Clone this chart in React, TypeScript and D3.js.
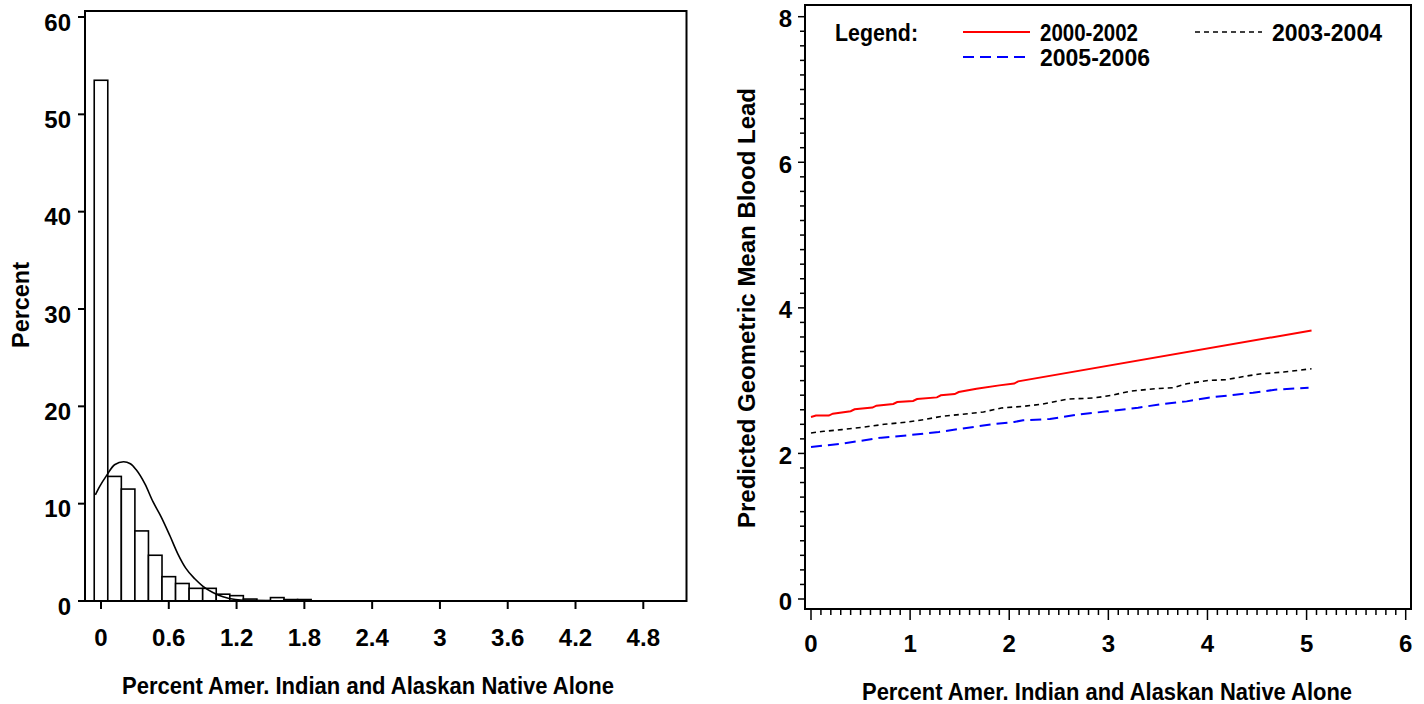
import React from "react";
import * as d3 from "d3";

// ---------- Data: left histogram ----------
const binCenters = [0, 0.12, 0.24, 0.36, 0.48, 0.6, 0.72, 0.84, 0.96, 1.08, 1.2, 1.32, 1.44, 1.56, 1.68, 1.8];
const binPercents = [53.5, 12.8, 11.5, 7.2, 4.7, 2.5, 1.8, 1.3, 1.3, 0.7, 0.55, 0.2, 0.05, 0.35, 0.15, 0.15];
const binWidth = 0.12;
const curveX = [-0.05, -0.01, 0.05, 0.12, 0.2, 0.26, 0.31, 0.39, 0.46, 0.53, 0.61, 0.68, 0.75, 0.83, 0.9, 0.99, 1.08, 1.19, 1.34, 1.6, 2.0];
const curveY = [10.9, 11.8, 12.9, 14.0, 14.3, 14.1, 13.5, 12.0, 10.2, 8.7, 6.7, 4.85, 3.38, 2.28, 1.54, 0.88, 0.44, 0.15, 0.04, 0.01, 0];
const leftXTicks = [0, 0.6, 1.2, 1.8, 2.4, 3, 3.6, 4.2, 4.8];
const leftYTicks = [0, 10, 20, 30, 40, 50, 60];

// ---------- Data: right line chart ----------
const redX = [0.0, 0.05, 0.18, 0.22, 0.4, 0.44, 0.62, 0.66, 0.83, 0.87, 1.03, 1.07, 1.27, 1.31, 1.45, 1.49, 1.67, 1.9, 2.05, 2.09, 5.05];
const redY = [2.5, 2.52, 2.52, 2.546, 2.58, 2.606, 2.63, 2.656, 2.68, 2.706, 2.72, 2.747, 2.77, 2.798, 2.815, 2.843, 2.889, 2.935, 2.96, 2.99, 3.689];
const blackX = [0.0, 0.13, 0.31, 0.54, 0.74, 0.98, 1.16, 1.32, 1.52, 1.74, 1.92, 2.14, 2.32, 2.59, 2.85, 3.03, 3.23, 3.48, 3.66, 3.79, 4.01, 4.19, 4.37, 4.55, 4.77, 4.91, 5.05];
const blackY = [2.281, 2.304, 2.327, 2.363, 2.4, 2.432, 2.469, 2.51, 2.537, 2.569, 2.624, 2.647, 2.674, 2.747, 2.761, 2.798, 2.857, 2.889, 2.903, 2.958, 3.003, 3.013, 3.058, 3.095, 3.118, 3.141, 3.163];
const blueX = [0.0, 0.16, 0.31, 0.54, 0.71, 0.98, 1.29, 1.52, 1.69, 1.83, 2.05, 2.14, 2.41, 2.68, 2.99, 3.3, 3.57, 3.79, 4.01, 4.28, 4.46, 4.68, 5.02];
const blueY = [2.089, 2.112, 2.135, 2.181, 2.217, 2.249, 2.295, 2.341, 2.373, 2.4, 2.432, 2.455, 2.473, 2.533, 2.578, 2.629, 2.683, 2.715, 2.766, 2.807, 2.834, 2.875, 2.903];
const rightXTicks = [0, 1, 2, 3, 4, 5, 6];
const rightYTicks = [0, 2, 4, 6, 8];
const seriesNames = ["2000-2002", "2003-2004", "2005-2006"];
const xTitle = "Percent Amer. Indian and Alaskan Native Alone";

const FONT = "'Liberation Sans Narrow', 'Arial Narrow', 'Liberation Sans', Arial, sans-serif";

export default function App() {
  // Left scales
  const lx = d3.scaleLinear().domain([0, 4.8]).range([101, 643.3]);
  const ly = d3.scaleLinear().domain([0, 60]).range([601, 17]);
  const L = { left: 85, right: 686.5, top: 11, bottom: 601 };

  // Right scales
  const rx = d3.scaleLinear().domain([0, 6]).range([811, 1405.7]);
  const ry = d3.scaleLinear().domain([0, 8]).range([599, 16.7]);
  const R = { left: 805, right: 1411, top: 5, bottom: 609 };

  const curvePts: [number, number][] = curveX.map((x, i) => [x, curveY[i]]);
  const curvePath = d3.line<[number, number]>().x(d => lx(d[0])).y(d => ly(d[1])).curve(d3.curveMonotoneX)(curvePts) || "";

  const rLine = d3.line<[number, number]>().x(d => rx(d[0])).y(d => ry(d[1]));
  const redPath = rLine(redX.map((x, i) => [x, redY[i]] as [number, number])) || "";
  const blackPath = rLine(blackX.map((x, i) => [x, blackY[i]] as [number, number])) || "";
  const bluePath = rLine(blueX.map((x, i) => [x, blueY[i]] as [number, number])) || "";

  const rxMinor = d3.range(0, 60.5, 1).map(v => v / 10);
  const ryMinor = d3.range(0, 40.5, 1).map(v => v / 5);

  const tickFont = { fontFamily: FONT, fontWeight: 700, fontSize: 24 } as const;
  const legFont = { fontFamily: FONT, fontWeight: 700, fontSize: 23 } as const;
  const titleFont = { fontFamily: FONT, fontWeight: 700, fontSize: 23 } as const;

  return (
    <svg width={1424} height={704} style={{ position: "absolute", left: 0, top: 0, background: "#fff" }}>
      <rect x={0} y={0} width={1424} height={704} fill="#fff" />
      {/* ---------- LEFT: histogram ---------- */}
      {binCenters.map((c, i) => (
        <rect key={"b" + i}
          x={lx(c - binWidth / 2)} y={ly(binPercents[i])}
          width={lx(c + binWidth / 2) - lx(c - binWidth / 2)}
          height={ly(0) - ly(binPercents[i])}
          fill="#fff" stroke="#000" strokeWidth={1.6} />
      ))}
      <path d={curvePath} fill="none" stroke="#000" strokeWidth={1.6} />
      <rect x={L.left} y={L.top} width={L.right - L.left} height={L.bottom - L.top} fill="none" stroke="#000" strokeWidth={2} />
      {leftYTicks.map(t => (
        <g key={"ly" + t}>
          <line x1={L.left - 7} x2={L.left} y1={ly(t)} y2={ly(t)} stroke="#000" strokeWidth={2} />
          <text x={71} y={ly(t) + 5} dy="0.36em" textAnchor="end" {...tickFont}>{t}</text>
        </g>
      ))}
      {leftXTicks.map(t => (
        <g key={"lx" + t}>
          <line x1={lx(t)} x2={lx(t)} y1={L.bottom} y2={L.bottom + 8} stroke="#000" strokeWidth={2} />
          <text x={lx(t)} y={646} textAnchor="middle" {...tickFont}>{t}</text>
        </g>
      ))}
      <text x={368} y={694} textAnchor="middle" {...titleFont} textLength={492} lengthAdjust="spacingAndGlyphs">{xTitle}</text>
      <text transform="translate(29,305) rotate(-90)" textAnchor="middle" {...titleFont} textLength={86} lengthAdjust="spacingAndGlyphs">Percent</text>

      {/* ---------- RIGHT: lines ---------- */}
      <path d={redPath} fill="none" stroke="#ff0000" strokeWidth={2} />
      <path d={blackPath} fill="none" stroke="#000" strokeWidth={1.6} strokeDasharray="5,4" />
      <path d={bluePath} fill="none" stroke="#0000ff" strokeWidth={2} strokeDasharray="11,6" />
      <rect x={R.left} y={R.top} width={R.right - R.left} height={R.bottom - R.top} fill="none" stroke="#000" strokeWidth={2} />
      {ryMinor.map(t => {
        const major = Math.abs(t % 2) < 1e-6;
        return <line key={"rym" + t} x1={R.left - (major ? 7 : 5)} x2={R.left} y1={ry(t)} y2={ry(t)} stroke="#000" strokeWidth={1.5} />;
      })}
      {rightYTicks.map(t => (
        <text key={"ryt" + t} x={792} y={ry(t) + 2} dy="0.36em" textAnchor="end" {...tickFont}>{t}</text>
      ))}
      {rxMinor.map(t => {
        const major = Math.abs(t - Math.round(t)) < 1e-6;
        return <line key={"rxm" + t} x1={rx(t)} x2={rx(t)} y1={R.bottom} y2={R.bottom + (major ? 11 : 6)} stroke="#000" strokeWidth={1.5} />;
      })}
      {rightXTicks.map(t => (
        <text key={"rxt" + t} x={rx(t)} y={652} textAnchor="middle" {...tickFont}>{t}</text>
      ))}
      <text x={1107} y={700} textAnchor="middle" {...titleFont} textLength={490} lengthAdjust="spacingAndGlyphs">{xTitle}</text>
      <text transform="translate(755,308) rotate(-90)" textAnchor="middle" {...titleFont} textLength={440} lengthAdjust="spacingAndGlyphs">Predicted Geometric Mean Blood Lead</text>

      {/* Legend */}
      <text x={835} y={41} textLength={83} lengthAdjust="spacingAndGlyphs" {...legFont}>Legend:</text>
      <line x1={963} x2={1030} y1={32} y2={32} stroke="#ff0000" strokeWidth={2} />
      <text x={1040} y={41} textLength={98} lengthAdjust="spacingAndGlyphs" {...legFont}>{seriesNames[0]}</text>
      <line x1={1195} x2={1262} y1={32} y2={32} stroke="#000" strokeWidth={1.6} strokeDasharray="5,4" />
      <text x={1272} y={41} textLength={110} lengthAdjust="spacingAndGlyphs" {...legFont}>{seriesNames[1]}</text>
      <line x1={963} x2={1030} y1={57} y2={57} stroke="#0000ff" strokeWidth={2} strokeDasharray="11,6" />
      <text x={1040} y={66} textLength={110} lengthAdjust="spacingAndGlyphs" {...legFont}>{seriesNames[2]}</text>
    </svg>
  );
}
